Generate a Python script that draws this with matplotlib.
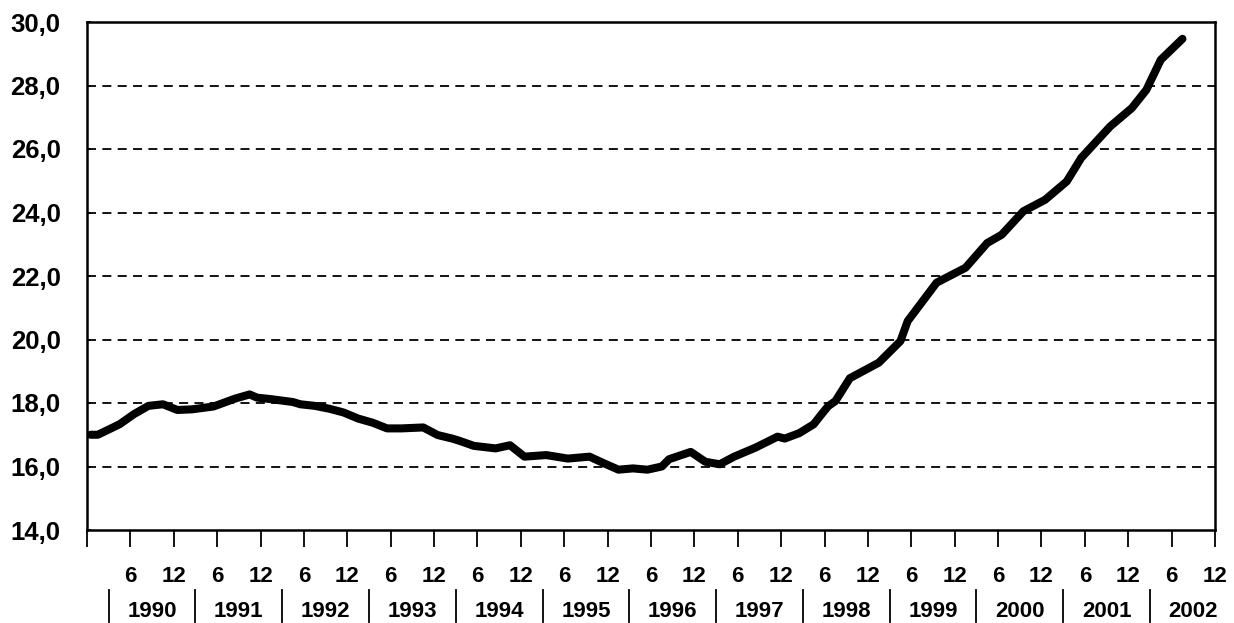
import numpy as np
import matplotlib
matplotlib.use("Agg")
import matplotlib.pyplot as plt
from matplotlib.transforms import blended_transform_factory

# month number (1 = Jan 1990) and value
months = [1, 2, 5, 7, 9, 11, 13, 15, 18, 21, 23, 24, 26, 29, 30, 32, 34, 36, 38,
          40, 42, 44, 47, 49, 51, 52, 54, 57, 59, 61, 64, 67, 70, 72, 74, 76, 78,
          80, 81, 84, 86, 88, 90, 93, 96, 97, 99, 101, 102, 103, 104, 106, 110,
          113, 114, 118, 122, 125, 127, 130, 133, 136, 138, 142, 145, 147, 149, 152]
values = [17.0, 17.0, 17.33, 17.65, 17.91, 17.96, 17.78, 17.80, 17.89, 18.14,
          18.27, 18.17, 18.12, 18.03, 17.96, 17.91, 17.82, 17.70, 17.51, 17.38,
          17.20, 17.20, 17.23, 16.99, 16.88, 16.81, 16.65, 16.57, 16.67, 16.31,
          16.36, 16.25, 16.31, 16.10, 15.90, 15.94, 15.90, 16.00, 16.23, 16.46,
          16.15, 16.07, 16.31, 16.60, 16.94, 16.88, 17.05, 17.33, 17.62, 17.90,
          18.06, 18.78, 19.27, 19.95, 20.58, 21.79, 22.26, 23.04, 23.30, 24.04,
          24.40, 24.98, 25.72, 26.71, 27.29, 27.86, 28.81, 29.47]

years = [1990, 1991, 1992, 1993, 1994, 1995, 1996, 1997, 1998, 1999, 2000, 2001, 2002]
month_ticks = ["6", "12"] * len(years)
y_ticks = [14.0, 16.0, 18.0, 20.0, 22.0, 24.0, 26.0, 28.0, 30.0]
y_labels = ["14,0", "16,0", "18,0", "20,0", "22,0", "24,0", "26,0", "28,0", "30,0"]

plt.rcParams['font.family'] = ['Liberation Sans', 'DejaVu Sans']

fig = plt.figure(figsize=(12.34, 6.23), dpi=100)
ax = fig.add_axes([87 / 1234, 1 - 530 / 623, (1215 - 87) / 1234, (530 - 22) / 623])

x = np.array(months) - 0.5
ax.plot(x, values, color="black", lw=5.8, solid_capstyle="round", solid_joinstyle="round", zorder=3)

ax.set_xlim(0, 12 * len(years))
ax.set_ylim(y_ticks[0], y_ticks[-1])

# dashed gridlines
for v in y_ticks[1:-1]:
    ax.axhline(v, color="black", lw=1.3, ls=(0, (5, 3.5)), zorder=1)

ax.set_yticks(y_ticks)
ax.set_yticklabels(y_labels, fontsize=18.5, fontweight="bold")
ax.tick_params(axis="y", length=3, width=1.3, direction="in", pad=19)

ax.set_xticks(np.arange(0, 12 * len(years) + 1, 6))
ax.set_xticklabels([""] + month_ticks, fontsize=16, fontweight="bold")
ax.tick_params(axis="x", length=12, width=1.3, direction="out", pad=14)

for s in ax.spines.values():
    s.set_linewidth(1.8)

# year row with separators
trans = blended_transform_factory(ax.transData, ax.transAxes)
for i, yr in enumerate(years):
    ax.text(12 * i + 9, -0.16, str(yr), transform=trans, ha="center", va="center",
            fontsize=16, fontweight="bold")
    ax.plot([12 * i + 3, 12 * i + 3], [-0.118, -0.181], transform=trans, color="black",
            lw=1.3, clip_on=False)

fig.savefig("out.png", dpi=100)
